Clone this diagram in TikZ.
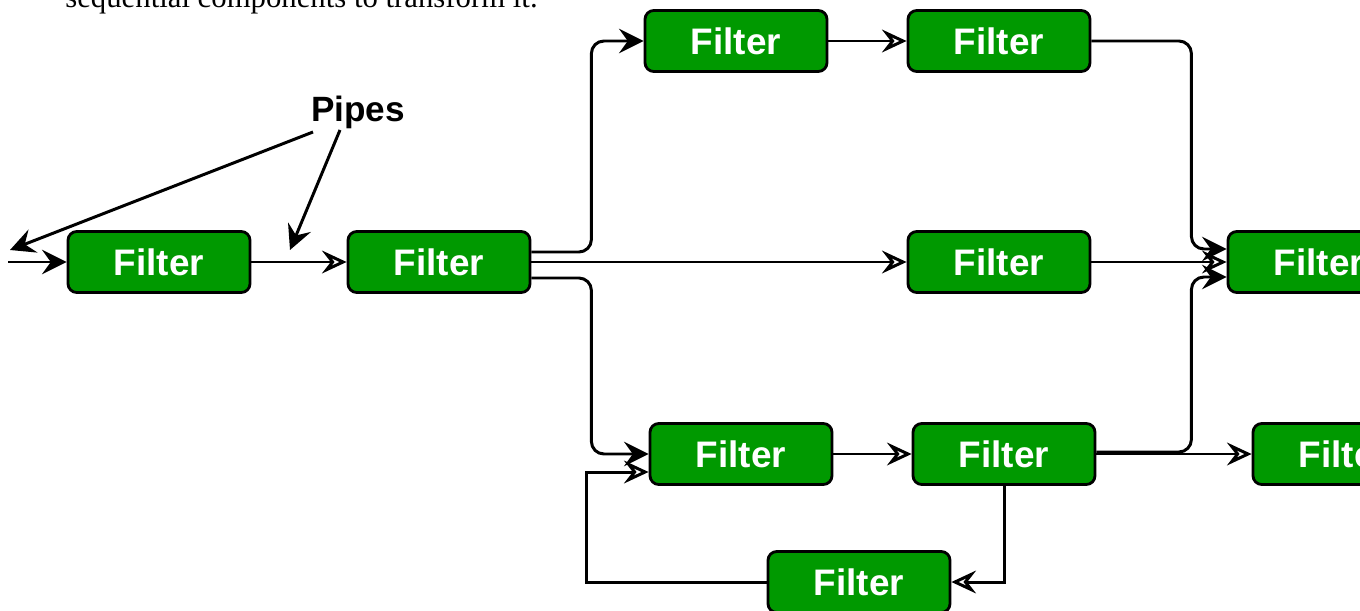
\documentclass[tikz,border=0pt]{standalone}
\usepackage{xcolor}
\usepackage{fontspec}
\usepackage{tikz}
\usetikzlibrary{arrows.meta}
\setmainfont{Liberation Serif}
\newfontfamily\filterfont{Liberation Sans}
\definecolor{FG}{HTML}{009900}
\tikzset{%
filterbox/.style={draw, line width=1.6pt, rounded corners=5pt, fill=FG, minimum width=3.640000cm, minimum height=1.220000cm, text centered, text=white, font=\filterfont\bfseries\fontsize{21}{25}\selectfont},%
pipe/.style={line width=1.7pt, -{Stealth[length=14pt, width=14pt, inset=5pt]}},%
openpipe/.style={line width=1.7pt, -{Stealth[open, length=14pt, width=13pt, inset=5pt]}},%
}

\begin{document}
\begin{tikzpicture}%
\clip (0,0) rectangle (27.200000, 12.200000);%
\node[anchor=base west, inner sep=0pt, font=\fontsize{17.5}{21}\selectfont] (txt) at (1.300000, 12.050000) {sequential components to transform it.};%
\node[filterbox] (b1) at (3.180000, 6.960000) {Filter};%
\node[filterbox] (b2) at (8.780000, 6.960000) {Filter};%
\node[filterbox] (t1) at (14.720000, 11.380000) {Filter};%
\node[filterbox] (t2) at (19.980000, 11.380000) {Filter};%
\node[filterbox] (m) at (19.980000, 6.960000) {Filter};%
\node[filterbox] (r) at (26.380000, 6.960000) {Filter};%
\node[filterbox] (l1) at (14.820000, 3.120000) {Filter};%
\node[filterbox] (l2) at (20.080000, 3.120000) {Filter};%
\node[filterbox] (l3) at (26.880000, 3.120000) {Filter};%
\node[filterbox] (bot) at (17.180000, 0.560000) {Filter};%
\node[anchor=base, inner sep=0pt, font=\filterfont\bfseries\fontsize{20}{24}\selectfont] (pipes) at (7.160000, 9.760000) {Pipes};%
\coordinate (in) at (0.160000, 6.960000);%
\coordinate (pA0) at (6.260000, 9.560000);%
\coordinate (pA1) at (0.200000, 7.200000);%
\coordinate (pB0) at (6.800000, 9.600000);%
\coordinate (pB1) at (5.800000, 7.200000);%
\draw[pipe] (pA0) -- (pA1);%
\draw[pipe] (pB0) -- (pB1);%
\draw[pipe] (in) -- (b1);%
\draw[openpipe] (b1) -- (b2);%
\draw[pipe, rounded corners=0.25cm] ([yshift=0.2cm]b2.east) -- ++(1.2,0) |- (t1.west);%
\draw[openpipe] (t1) -- (t2);%
\draw[pipe, rounded corners=0.25cm] (t2.east) -- ++(2.0,0) |- ([yshift=0.26cm]r.west);%
\draw[openpipe] (b2) -- (m);%
\draw[openpipe] (m) -- (r);%
\draw[pipe, rounded corners=0.25cm] ([yshift=-0.32cm]b2.east) -- ++(1.2,0) |- (l1.west);%
\draw[openpipe] (l1) -- (l2);%
\draw[pipe, rounded corners=0.25cm] ([yshift=0.04cm]l2.east) -- ++(1.9,0) |- ([yshift=-0.3cm]r.west);%
\draw[openpipe] (l2) -- (l3);%
\draw[openpipe] (l2.south) |- (bot.east);%
\draw[openpipe] (bot.west) -- ++(-3.6,0) |- ([yshift=-0.36cm]l1.west);%
\end{tikzpicture}
\end{document}
